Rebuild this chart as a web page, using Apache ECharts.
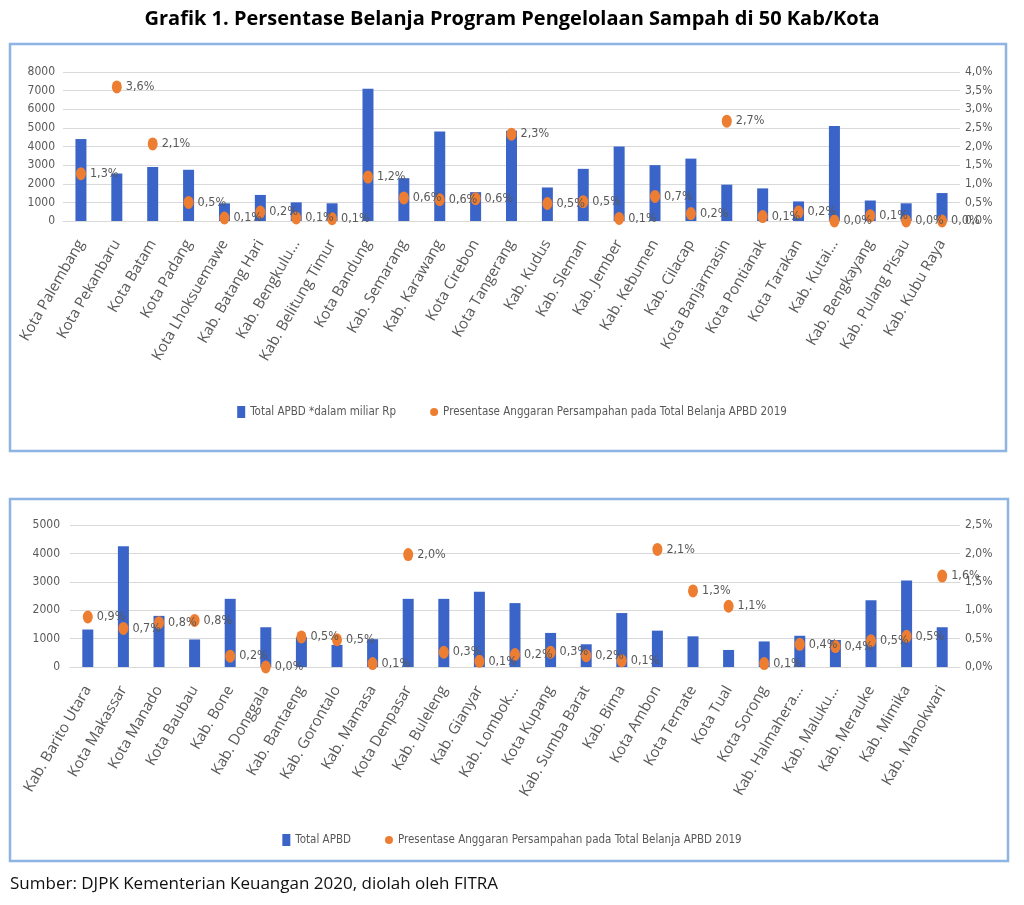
<!DOCTYPE html>
<html>
<head>
<meta charset="utf-8">
<script src="https://cdn.jsdelivr.net/npm/echarts/dist/echarts.min.js"></script>
<style>html,body{margin:0;padding:0;background:#fff}#c{width:1024px;height:905px}</style>
</head>
<body>
<div id="c"></div>
<script>
// ---- data ----
const topCategories = ['Kota Palembang','Kota Pekanbaru','Kota Batam','Kota Padang','Kota Lhoksuemawe','Kab. Batang Hari','Kab. Bengkulu...','Kab. Belitung Timur','Kota Bandung','Kab. Semarang','Kab. Karawang','Kota Cirebon','Kota Tangerang','Kab. Kudus','Kab. Sleman','Kab. Jember','Kab. Kebumen','Kab. Cilacap','Kota Banjarmasin','Kota Pontianak','Kota Tarakan','Kab. Kutai...','Kab. Bengkayang','Kab. Pulang Pisau','Kab. Kubu Raya'];
const topApbd = [4400,2550,2900,2750,950,1400,1000,950,7100,2300,4800,1550,4850,1800,2800,4000,3000,3350,1950,1750,1050,5100,1100,950,1500];
const topPct = [1.27,3.6,2.07,0.5,0.08,0.24,0.08,0.06,1.18,0.62,0.57,0.6,2.33,0.47,0.52,0.07,0.66,0.2,2.68,0.12,0.24,0.0,0.14,0.0,0.0];

const bottomCategories = ['Kab. Barito Utara','Kota Makassar','Kota Manado','Kota Baubau','Kab. Bone','Kab. Donggala','Kab. Bantaeng','Kab. Gorontalo','Kab. Mamasa','Kota Denpasar','Kab. Buleleng','Kab. Gianyar','Kab. Lombok...','Kota Kupang','Kab. Sumba Barat','Kab. Bima','Kota Ambon','Kota Ternate','Kota Tual','Kota Sorong','Kab. Halmahera...','Kab. Maluku...','Kab. Merauke','Kab. Mimika','Kab. Manokwari'];
const bottomApbd = [1320,4250,1800,970,2400,1400,1050,780,980,2400,2400,2650,2250,1200,800,1900,1280,1080,600,900,1100,950,2350,3050,1400];
const bottomPct = [0.88,0.68,0.78,0.82,0.19,0.0,0.53,0.48,0.06,1.98,0.26,0.1,0.22,0.26,0.2,0.11,2.07,1.34,1.07,0.06,0.4,0.36,0.46,0.54,1.6];

const topLeftAxis = {min:0, max:8000, interval:1000};
const topRightAxis = {min:0, max:4, interval:0.5};
const bottomLeftAxis = {min:0, max:5000, interval:1000};
const bottomRightAxis = {min:0, max:2.5, interval:0.5};

const titleText = 'Grafik 1. Persentase Belanja Program Pengelolaan Sampah di 50 Kab/Kota';
const sourceText = 'Sumber: DJPK Kementerian Keuangan 2020, diolah oleh FITRA';
const topBarName = 'Total APBD *dalam miliar Rp';
const bottomBarName = 'Total APBD';
const pctName = 'Presentase Anggaran Persampahan pada Total Belanja APBD 2019';

// ---- font choice: a narrow face if installed ----
const cv = document.createElement('canvas').getContext('2d');
function textW(font, s) { cv.font = font; return cv.measureText(s).width; }
function installed(name) {
  const s = 'mmmmwwwiiilll Total APBD 0123';
  return ['monospace','serif'].some(b => textW("40px '" + name + "'," + b, s) !== textW('40px ' + b, s));
}
const narrowName = ['Liberation Sans Narrow','DejaVu Sans Condensed','Roboto Condensed','Open Sans Condensed','Roboto'].find(installed) || 'Roboto';
const NARROW = "'" + narrowName + "',sans-serif";
// size so that the legend text spans about as wide as in the reference (~141px)
const w100 = textW("100px " + NARROW, topBarName);
const SMALL = Math.max(11, Math.min(15, Math.round(141 / w100 * 100 * 2) / 2));
const ROT_FONT = "'Open Sans',sans-serif";

const GRAY = '#595959';
const BLUE = '#3a64c8';
const ORANGE = '#ed7d31';
const GRID = '#d9d9d9';
const ELLIPSE = 'path://M1,0A1,1,0,1,1,1,2A1,1,0,1,1,1,0Z';
const pctFmt = v => v.toFixed(1).replace('.', ',') + '%';

const chart = echarts.init(document.getElementById('c'), null, {renderer:'canvas'});

function xAx(gridIndex, data) {
  return {
    type:'category', gridIndex, data,
    axisLine:{show:true, lineStyle:{color:GRID}},
    axisTick:{show:false},
    axisLabel:{interval:0, rotate:60, margin:20, color:GRAY, fontSize:15, fontFamily:ROT_FONT}
  };
}
function yAx(gridIndex, cfg, pos, fmt, margin) {
  return Object.assign({
    type:'value', gridIndex, position:pos,
    axisLine:{show:false}, axisTick:{show:false},
    splitLine:{show: pos === 'left', lineStyle:{color:GRID, width:1}},
    axisLabel:{color:GRAY, fontSize:SMALL + 1, fontFamily:NARROW, margin, formatter:fmt}
  }, cfg);
}
function barS(name, xi, yi, data) {
  return {name, type:'bar', xAxisIndex:xi, yAxisIndex:yi, data, barWidth:11,
    itemStyle:{color:BLUE}, z:2};
}
function dotS(xi, yi, data) {
  return {name:pctName, type:'scatter', xAxisIndex:xi, yAxisIndex:yi, data,
    symbol:ELLIPSE, symbolSize:[10,13], itemStyle:{color:ORANGE, opacity:1}, z:3,
    label:{show:true, position:'right', distance:4, color:GRAY, fontSize:SMALL + 1.5, fontFamily:NARROW,
      formatter:p => pctFmt(p.value)}};
}

const legendCommon = {
  left:'center', itemWidth:8, itemHeight:12, itemGap:34,
  textStyle:{color:GRAY, fontSize:SMALL + 0.5, fontFamily:NARROW},
  selectedMode:false
};

chart.setOption({
  animation:false,
  backgroundColor:'#fff',
  grid:[
    {left:63, right:64, top:72, bottom:905-221, outerBoundsMode:'none'},
    {left:70, right:64, top:525, bottom:905-667, outerBoundsMode:'none'}
  ],
  xAxis:[xAx(0, topCategories), xAx(1, bottomCategories)],
  yAxis:[
    yAx(0, topLeftAxis, 'left', v => String(v), 8),
    yAx(0, topRightAxis, 'right', pctFmt, 5),
    yAx(1, bottomLeftAxis, 'left', v => String(v), 10),
    yAx(1, bottomRightAxis, 'right', pctFmt, 5)
  ],
  legend:[
    Object.assign({top:401, data:[{name:topBarName, icon:'rect'}, {name:pctName, icon:ELLIPSE}]}, legendCommon),
    Object.assign({top:829, data:[{name:bottomBarName, icon:'rect'}, {name:pctName, icon:ELLIPSE}]}, legendCommon)
  ],
  series:[
    barS(topBarName, 0, 0, topApbd),
    dotS(0, 1, topPct),
    barS(bottomBarName, 1, 2, bottomApbd),
    dotS(1, 3, bottomPct)
  ],
  graphic:[
    {type:'text', left:'center', top:9, style:{text:titleText, font:"bold 20px 'Open Sans',sans-serif", fill:'#000'}},
    {type:'rect', shape:{x:10, y:44, width:996, height:407}, style:{fill:'none', stroke:'#8db4e2', lineWidth:2.5}, z:-1},
    {type:'rect', shape:{x:10, y:499, width:998, height:362}, style:{fill:'none', stroke:'#8db4e2', lineWidth:2.5}, z:-1},
    {type:'text', left:10, top:876, style:{text:sourceText, font:"17px 'Open Sans',sans-serif", fill:'#111'}}
  ]
});
</script>
</body>
</html>
